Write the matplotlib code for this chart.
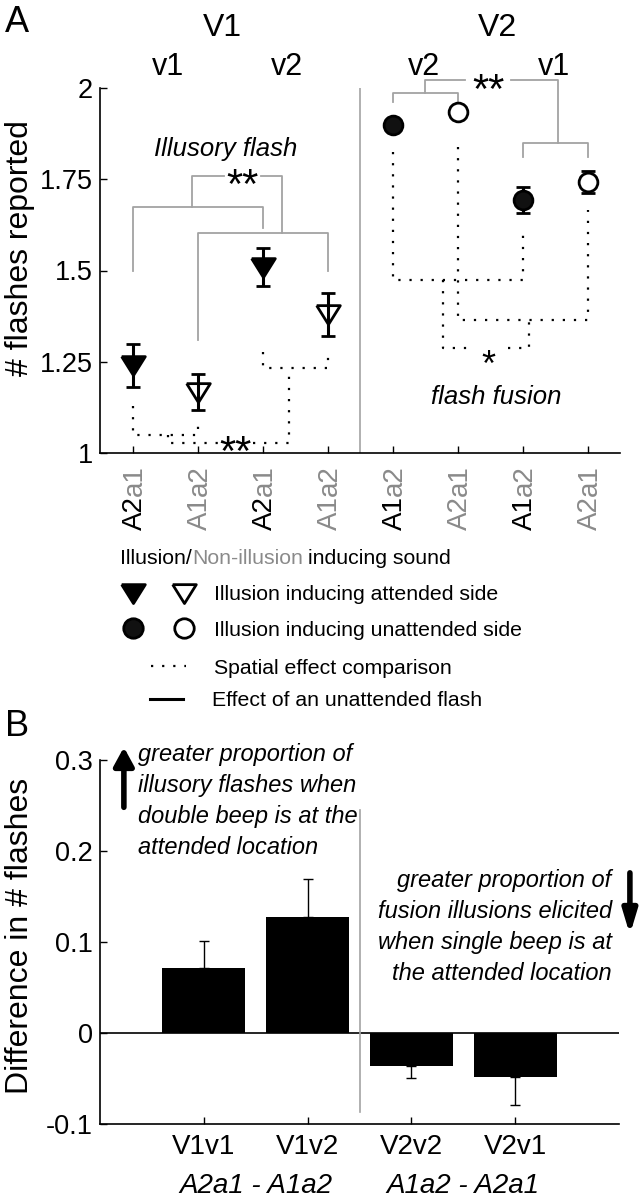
import matplotlib
matplotlib.use('Agg')
import matplotlib.pyplot as plt

plt.rcParams['font.family'] = ['Liberation Sans', 'DejaVu Sans']

W, H = 639, 1199
fig = plt.figure(figsize=(W / 100, H / 100), dpi=100)

# ---------------- data: panel A ----------------
a_pos = [1, 2, 3, 4, 5, 6, 7, 8]
a_lab_first = ['A2', 'A1', 'A2', 'A1', 'A1', 'A2', 'A1', 'A2']
a_lab_second = ['a1', 'a2', 'a1', 'a2', 'a2', 'a1', 'a2', 'a1']
a_first_gray = [False, True, False, True, False, True, False, True]
a_mean = [1.24, 1.167, 1.51, 1.38, 1.90, 1.935, 1.693, 1.742]
a_err = [0.06, 0.05, 0.052, 0.059, 0.0, 0.0, 0.036, 0.031]
a_shape = ['tri', 'tri', 'tri', 'tri', 'circ', 'circ', 'circ', 'circ']
a_filled = [True, False, True, False, True, False, True, False]
a_yticks = [1, 1.25, 1.5, 1.75, 2]
a_yticklabels = ['1', '1.25', '1.5', '1.75', '2']

# significance brackets (gray = effect of unattended flash)
brk_gray = [
    [(1, 1.50), (1, 1.674), (3, 1.674), (3, 1.616)],
    [(2, 1.31), (2, 1.603), (4, 1.603), (4, 1.50)],
    [(1.92, 1.674), (1.92, 1.758), (2.40, 1.758)],
    [(2.97, 1.758), (3.3, 1.758), (3.3, 1.603)],
    [(5, 1.962), (5, 1.986), (6, 1.986), (6, 1.962)],
    [(5.5, 1.986), (5.5, 2.022), (6.12, 2.022)],
    [(6.82, 2.022), (7.55, 2.022), (7.55, 1.849)],
    [(7, 1.81), (7, 1.849), (8, 1.849), (8, 1.81)],
]
# dotted = spatial effect comparison
brk_dot = [
    [(1, 1.13), (1, 1.05), (2, 1.05), (2, 1.08)],
    [(3, 1.277), (3, 1.233), (4, 1.233), (4, 1.266)],
    [(1.55, 1.05), (1.55, 1.028), (2.31, 1.028)],
    [(2.85, 1.028), (3.4, 1.028), (3.4, 1.233)],
    [(5, 1.825), (5, 1.474), (7, 1.474), (7, 1.61)],
    [(6, 1.838), (6, 1.364), (8, 1.364), (8, 1.666)],
    [(5.78, 1.474), (5.78, 1.288), (6.23, 1.288)],
    [(6.77, 1.288), (7.1, 1.288), (7.1, 1.364)],
]
stars = [('**', 2.69, 1.759, 30), ('**', 6.48, 2.018, 30), ('**', 2.58, 1.026, 30),
         ('*', 6.48, 1.262, 26)]

# ---------------- data: panel B ----------------
b_pos = [1, 2, 3, 4]
b_labels = ['V1v1', 'V1v2', 'V2v2', 'V2v1']
b_vals = [0.071, 0.127, -0.036, -0.048]
b_err = [0.030, 0.042, 0.0135, 0.031]
b_yticks = [-0.1, 0, 0.1, 0.2, 0.3]
b_yticklabels = ['-0.1', '0', '0.1', '0.2', '0.3']

GRAY_TXT = '#8a8a8a'
GRAY_LN = '#a3a3a3'
DOT = (0, (1, 4))

# ---------------- overlay for legend / labels ----------------
ov = fig.add_axes([0, 0, 1, 1])
ov.set_xlim(0, W)
ov.set_ylim(H, 0)
ov.axis('off')
ov.patch.set_visible(False)

# ---------------- panel A ----------------
axA = fig.add_axes([100 / W, 1 - 453 / H, 520 / W, 365 / H])
axA.set_xlim(0.5, 8.5)
axA.set_ylim(1, 2)
for s in ['top', 'right']:
    axA.spines[s].set_visible(False)
for s in ['left', 'bottom']:
    axA.spines[s].set_linewidth(1.2)
axA.set_yticks(a_yticks)
axA.set_yticklabels(a_yticklabels, fontsize=19.5)
axA.set_xticks(a_pos)
axA.set_xticklabels([])
axA.tick_params(direction='in', length=5, width=1, pad=5)

axA.plot([4.5, 4.5], [1, 2], color=GRAY_LN, lw=1.2, zorder=1)

for seg in brk_gray:
    axA.plot([p[0] for p in seg], [p[1] for p in seg], color=GRAY_LN, lw=1.3,
             clip_on=False, zorder=2)
for seg in brk_dot:
    axA.plot([p[0] for p in seg], [p[1] for p in seg], color='k', lw=1.6, ls=DOT,
             clip_on=False, zorder=2)

tri = [(-1, 0.75), (1, 0.75), (0, -0.85), (-1, 0.75)]
for x, m, e, shp, fil in zip(a_pos, a_mean, a_err, a_shape, a_filled):
    if e > 0:
        axA.errorbar(x, m, yerr=e, fmt='none', ecolor='k', elinewidth=2.2,
                     capsize=5, capthick=2, zorder=3)
    if shp == 'tri':
        mk, ms = tri, 17
        fc = 'k' if fil else 'none'
    else:
        mk, ms = 'o', 13.5
        fc = '#111111' if fil else 'white'
    axA.plot([x], [m], marker=mk, ms=ms, mfc=fc, mec='k', mew=2, ls='none', zorder=4)

em = lambda fs: fs * 100 / 72.0
for s, x, y, fs in stars:
    axA.annotate(s, xy=(x, y), xycoords='data', xytext=(0, -0.52 * em(fs)),
                 textcoords='offset pixels', ha='center', va='baseline',
                 fontsize=fs, annotation_clip=False)

axA.text(2.43, 1.84, 'Illusory flash', style='italic', fontsize=18.5, ha='center',
         va='center_baseline')
axA.text(6.6, 1.16, 'flash fusion', style='italic', fontsize=18.5, ha='center',
         va='center_baseline')

# headers
axA.text(2.38, 2.173, 'V1', fontsize=23, ha='center', va='center_baseline', clip_on=False)
axA.text(6.62, 2.173, 'V2', fontsize=23, ha='center', va='center_baseline', clip_on=False)
for x, s in [(1.54, 'v1'), (3.38, 'v2'), (5.48, 'v2'), (7.48, 'v1')]:
    axA.text(x, 2.068, s, fontsize=22, ha='center', va='center_baseline', clip_on=False)

# two-colour rotated x tick labels
fig.canvas.draw()
rend = fig.canvas.get_renderer()


def text_w(s, **kw):
    t = fig.text(0, 0, s, **kw)
    w = t.get_window_extent(rend).width
    t.remove()
    return w


XFS = 20
for x, f, sec, fg in zip(a_pos, a_lab_first, a_lab_second, a_first_gray):
    wf = text_w(f, fontsize=XFS)
    axA.annotate(f, xy=(x, 0), xycoords=('data', 'axes fraction'), xytext=(2, -77),
                 textcoords='offset pixels', rotation=90, rotation_mode='anchor',
                 ha='left', va='center', fontsize=XFS,
                 color=GRAY_TXT if fg else 'k', annotation_clip=False)
    axA.annotate(sec, xy=(x, 0), xycoords=('data', 'axes fraction'), xytext=(2, -77 + wf),
                 textcoords='offset pixels', rotation=90, rotation_mode='anchor',
                 ha='left', va='center', fontsize=XFS, color=GRAY_TXT,
                 annotation_clip=False)

# ---------------- panel B ----------------
axB = fig.add_axes([100 / W, 1 - 1124 / H, 519 / W, 364 / H])
axB.set_xlim(0, 5)
axB.set_ylim(-0.1, 0.3)
for s in ['top', 'right']:
    axB.spines[s].set_visible(False)
for s in ['left', 'bottom']:
    axB.spines[s].set_linewidth(1.2)
axB.bar(b_pos, b_vals, width=0.8, color='k', zorder=2)
for x, v, e in zip(b_pos, b_vals, b_err):
    yerr = [[0], [e]] if v > 0 else [[e], [0]]
    axB.errorbar([x], [v], yerr=yerr, fmt='none', ecolor='k', elinewidth=1,
                 capsize=3.5, capthick=1, zorder=3)
axB.axhline(0, color='k', lw=1.2, zorder=1)
axB.plot([2.5, 2.5], [-0.087, 0.245], color=GRAY_LN, lw=1.2, zorder=1)
axB.set_yticks(b_yticks)
axB.set_yticklabels(b_yticklabels, fontsize=19.5)
axB.set_xticks(b_pos)
axB.set_xticklabels(b_labels, fontsize=20)
axB.tick_params(direction='in', length=5, width=1)
axB.tick_params(axis='x', pad=7)
axB.tick_params(axis='y', pad=5)

axB.text(1.5, -0.1755, 'A2a1 - A1a2', style='italic', fontsize=20, ha='center',
         va='baseline', clip_on=False)
axB.text(3.5, -0.1755, 'A1a2 - A2a1', style='italic', fontsize=20, ha='center',
         va='baseline', clip_on=False)

axB.text(0.365, 0.3187,
         'greater proportion of\nillusory flashes when\ndouble beep is at the\nattended location',
         style='italic', fontsize=17, ha='left', va='top', linespacing=1.45, clip_on=False)
axB.text(4.93, 0.180,
         'greater proportion of\nfusion illusions elicited\nwhen single beep is at\nthe attended location',
         style='italic', fontsize=17, ha='right', va='top', multialignment='right',
         linespacing=1.45, clip_on=False)

axB.annotate('', xy=(0.23, 0.314), xytext=(0.23, 0.248), annotation_clip=False,
             arrowprops=dict(arrowstyle='-|>,head_length=1.1,head_width=0.6', lw=4,
                             color='k', shrinkA=0, shrinkB=0, mutation_scale=10))
axB.annotate('', xy=(5.105, 0.108), xytext=(5.105, 0.176), annotation_clip=False,
             arrowprops=dict(arrowstyle='-|>,head_length=1.4,head_width=0.42', lw=4,
                             color='k', shrinkA=0, shrinkB=0, mutation_scale=10))

# ---------------- labels ----------------
ov.text(17, 19, 'A', fontsize=26, ha='center', va='center_baseline')
ov.text(17, 722, 'B', fontsize=26, ha='center', va='center_baseline')
ov.text(20, 248, '# flashes reported', fontsize=23, rotation=90, ha='center', va='center')
ov.text(20, 936, 'Difference in # flashes', fontsize=23, rotation=90, ha='center', va='center')

# ---------------- legend ----------------
LFS = 15.3
x0 = 120
w1 = text_w('Illusion/', fontsize=LFS)
w12 = text_w('Illusion/Non-illusion', fontsize=LFS)
wsp = text_w('a a', fontsize=LFS) - text_w('aa', fontsize=LFS)
ov.text(x0, 557, 'Illusion/', fontsize=LFS, ha='left', va='center_baseline')
ov.text(x0 + w1, 557, 'Non-illusion', fontsize=LFS, ha='left', va='center_baseline',
        color=GRAY_TXT)
ov.text(x0 + w12 + wsp, 557, 'inducing sound', fontsize=LFS, ha='left',
        va='center_baseline')

ov.plot([133], [593], marker=tri, ms=17, mfc='k', mec='k', mew=2, ls='none')
ov.plot([184], [593], marker=tri, ms=17, mfc='none', mec='k', mew=2, ls='none')
ov.text(214, 593, 'Illusion inducing attended side', fontsize=LFS, ha='left',
        va='center_baseline')
ov.plot([133], [628], marker='o', ms=14, mfc='#111111', mec='k', mew=2, ls='none')
ov.plot([184], [628], marker='o', ms=14, mfc='white', mec='k', mew=2, ls='none')
ov.text(214, 628, 'Illusion inducing unattended side', fontsize=LFS, ha='left',
        va='center_baseline')
ov.plot([151, 186], [666, 666], color='k', lw=1.6, ls=DOT)
ov.text(214, 666, 'Spatial effect comparison', fontsize=LFS, ha='left',
        va='center_baseline')
ov.plot([150, 183], [699, 699], color='k', lw=2.2)
ov.text(212, 699, 'Effect of an unattended flash', fontsize=LFS, ha='left',
        va='center_baseline')

fig.savefig('out.png', dpi=100)
